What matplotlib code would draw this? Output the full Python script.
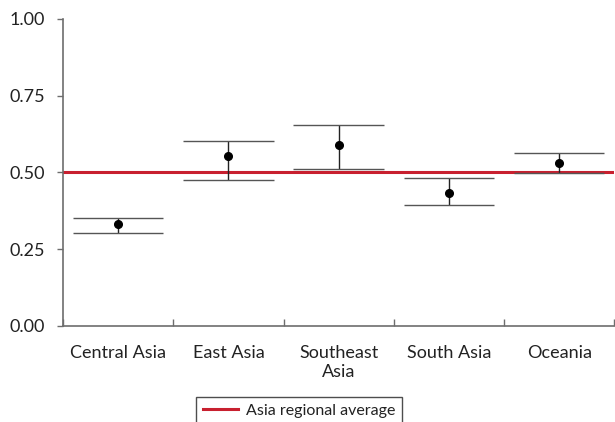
import matplotlib
matplotlib.use("Agg")
import matplotlib.pyplot as plt
from matplotlib.ticker import FixedLocator, NullFormatter

categories = ["Central Asia", "East Asia", "Southeast\nAsia", "South Asia", "Oceania"]
estimates = [0.332, 0.553, 0.590, 0.434, 0.531]
upper = [0.352, 0.603, 0.655, 0.483, 0.563]
lower = [0.303, 0.476, 0.512, 0.393, 0.499]
regional_average = 0.50
y_ticks = [0.00, 0.25, 0.50, 0.75, 1.00]
y_tick_labels = ["0.00", "0.25", "0.50", "0.75", "1.00"]

plt.rcParams['font.family'] = ['Lato', 'DejaVu Sans']

fig = plt.figure(figsize=(6.15, 4.22), dpi=100)
ax = fig.add_axes([0.1024, 0.2275, 0.8966, 0.7275])

x = list(range(len(categories)))
axis_col = "#6d6d6d"

ax.axhline(regional_average, color="#c8202f", lw=2.2, zorder=2, label="Asia regional average")

for xi, e, u, l in zip(x, estimates, upper, lower):
    ax.vlines(xi, l, u, color="#222222", lw=1.0, zorder=3)
    ax.hlines([u, l], xi - 0.41, xi + 0.41, color="#555555", lw=1.0, zorder=3)
ax.plot(x, estimates, 'o', color="black", ms=5.5, zorder=4)

ax.set_xlim(-0.5, len(categories) - 0.5)
ax.set_ylim(0, 1)

ax.xaxis.set_major_locator(FixedLocator([i - 0.5 for i in range(len(categories) + 1)]))
ax.xaxis.set_major_formatter(NullFormatter())
ax.xaxis.set_minor_locator(FixedLocator(x))
ax.set_xticks(x, categories, minor=True)
ax.tick_params(axis='x', which='major', direction='in', length=5, color=axis_col, width=1)
ax.tick_params(axis='x', which='minor', length=0, pad=14, labelsize=13, labelcolor="#222222")
for t in ax.get_xticklabels(minor=True):
    t.set_linespacing(1.2)

ax.set_yticks(y_ticks, y_tick_labels)
ax.tick_params(axis='y', direction='out', length=4, color=axis_col, width=1, labelsize=13,
               labelcolor="#222222", pad=9)

for s in ['top', 'right']:
    ax.spines[s].set_visible(False)
for s in ['left', 'bottom']:
    ax.spines[s].set_color(axis_col)
    ax.spines[s].set_linewidth(1.2)

leg = fig.legend(loc='upper center', bbox_to_anchor=(299 / 615, (422 - 397) / 422), fontsize=11.5,
                 frameon=True, fancybox=False, edgecolor="#222222", handlelength=2.2,
                 borderpad=0.4, handletextpad=0.5, borderaxespad=0)
leg.get_frame().set_linewidth(1.0)
for t in leg.get_texts():
    t.set_color("#222222")

fig.savefig("out.png", dpi=100)
